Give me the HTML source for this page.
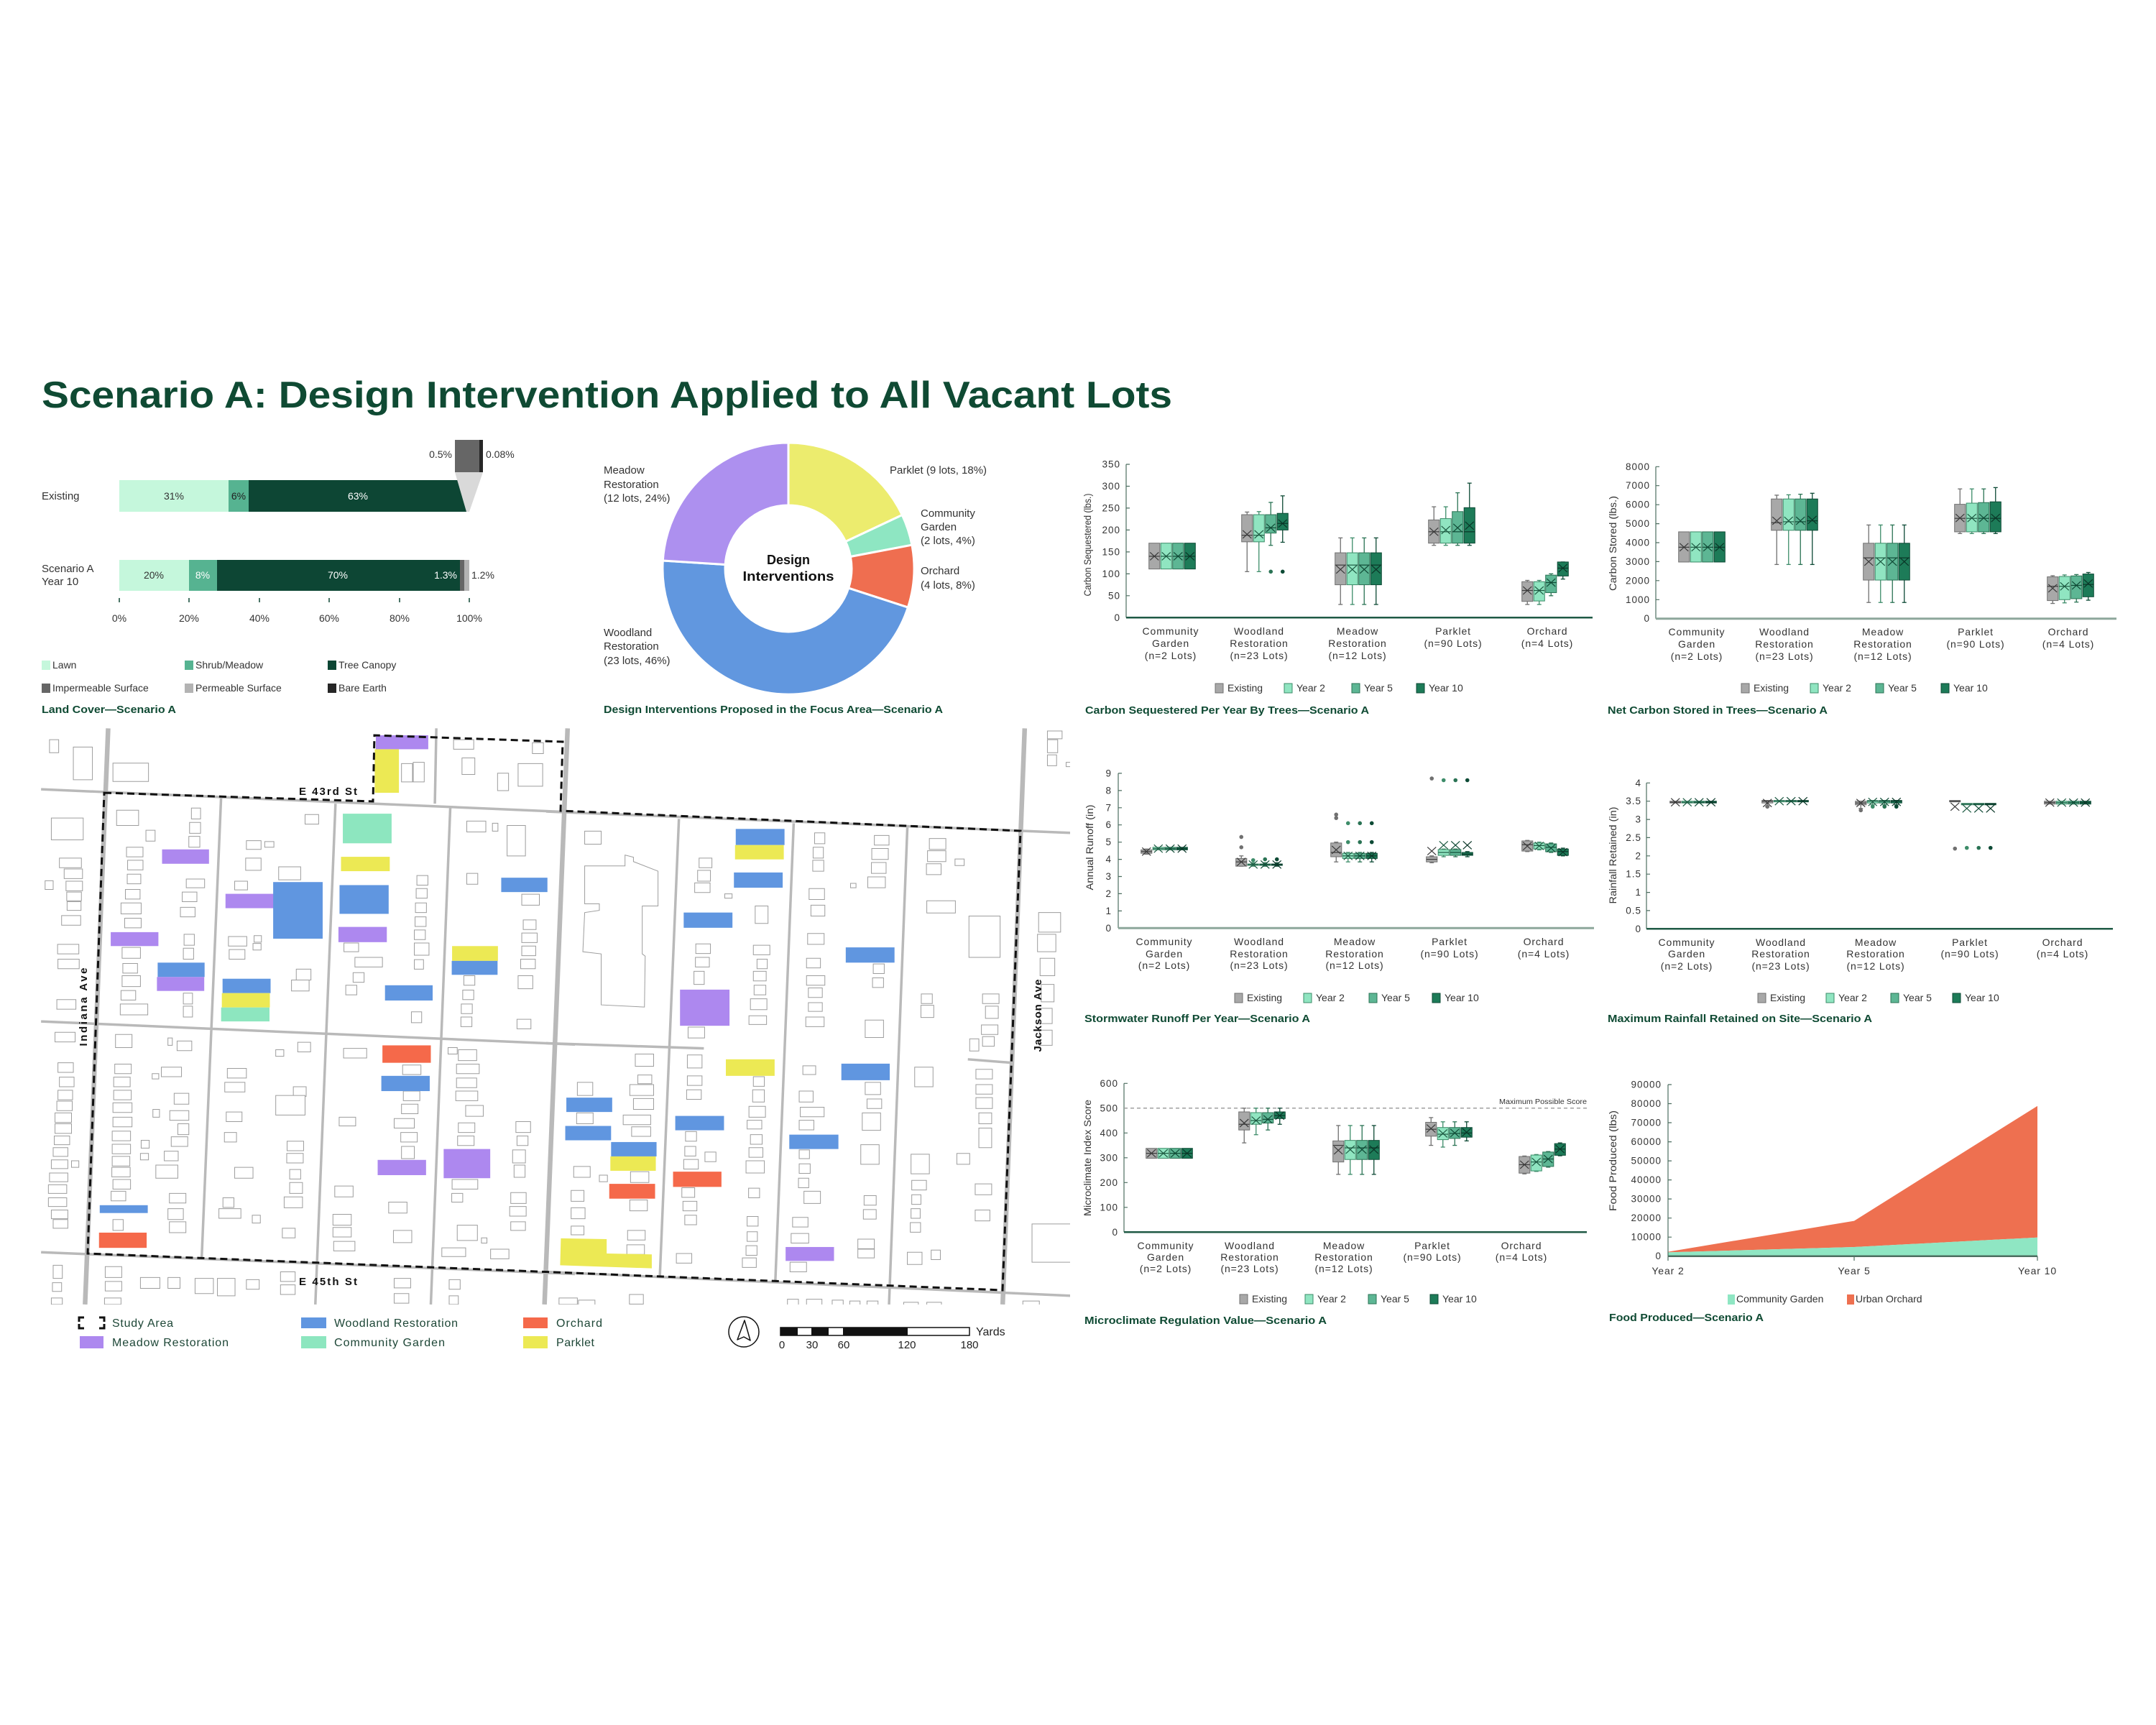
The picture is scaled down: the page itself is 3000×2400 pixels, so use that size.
<!DOCTYPE html>
<html><head><meta charset="utf-8">
<style>
html,body{margin:0;padding:0;background:#fff;}
svg{display:block;font-family:"Liberation Sans",Arial,sans-serif;}
.t{fill:#333;}
.cat{font-size:14px;fill:#333;letter-spacing:0.9px;text-anchor:middle;}
.tk{font-size:13.5px;fill:#333;letter-spacing:1px;text-anchor:end;}
.lg{font-size:14px;fill:#333;}
.ttl{font-size:14.5px;font-weight:bold;fill:#0f4a33;}
.yt{font-size:13.5px;fill:#333;text-anchor:middle;}
.ml{font-size:16px;fill:#1d4636;}
.dl{font-size:15px;fill:#333;}
</style></head><body>
<svg id="s" width="3000" height="2400" viewBox="0 0 3000 2400" xmlns="http://www.w3.org/2000/svg">
<defs><clipPath id="mapclip"><rect x="57" y="1013" width="1432" height="802"/></clipPath></defs>
<rect width="3000" height="2400" fill="#fff"/>

<!-- TITLE -->
<text x="58" y="567" font-size="52" font-weight="bold" fill="#0f4a33" textLength="1573" lengthAdjust="spacingAndGlyphs">Scenario A: Design Intervention Applied to All Vacant Lots</text>

<!-- LAND COVER -->
<g>
<text x="58" y="695" class="t" font-size="15">Existing</text>
<text x="58" y="796" class="t" font-size="15">Scenario A</text>
<text x="58" y="814" class="t" font-size="15">Year 10</text>
<rect x="166" y="668" width="152" height="44" fill="#c5f7dc"/>
<rect x="318" y="668" width="28" height="44" fill="#56b391"/>
<rect x="346" y="668" width="303" height="44" fill="#0d4634"/>
<rect x="649" y="668" width="2.5" height="44" fill="#666"/>
<rect x="651.5" y="668" width="1.5" height="44" fill="#222"/>
<rect x="166" y="779" width="97" height="43" fill="#c5f7dc"/>
<rect x="263" y="779" width="39" height="43" fill="#56b391"/>
<rect x="302" y="779" width="338" height="43" fill="#0d4634"/>
<rect x="640" y="779" width="6" height="43" fill="#666"/>
<rect x="646" y="779" width="7" height="43" fill="#b3b3b3"/>
<polygon points="633,657 672,657 653,712 649,712" fill="#d9d9d9"/>
<rect x="633" y="612" width="34" height="45" fill="#666"/>
<rect x="667" y="612" width="5" height="45" fill="#262626"/>
<text x="629" y="637" font-size="14" class="t" text-anchor="end">0.5%</text>
<text x="676" y="637" font-size="14" class="t">0.08%</text>
<g font-size="14" text-anchor="middle">
<text x="242" y="695" fill="#333">31%</text>
<text x="332" y="695" fill="#222">6%</text>
<text x="498" y="695" fill="#fff">63%</text>
<text x="214" y="805" fill="#333">20%</text>
<text x="282" y="805" fill="#fff">8%</text>
<text x="470" y="805" fill="#fff">70%</text>
</g>
<text x="636" y="805" font-size="14" fill="#fff" text-anchor="end">1.3%</text>
<text x="656" y="805" font-size="14" fill="#333">1.2%</text>
<path d="M166 832V838M263 832V838M361 832V838M458 832V838M556 832V838M653 832V838" stroke="#0d4634" stroke-width="1.5"/>
<g font-size="14" fill="#333" text-anchor="middle">
<text x="166" y="865">0%</text><text x="263" y="865">20%</text><text x="361" y="865">40%</text><text x="458" y="865">60%</text><text x="556" y="865">80%</text><text x="653" y="865">100%</text>
</g>
<rect x="58" y="919" width="12" height="13" fill="#c5f7dc"/><text x="73" y="930" class="lg">Lawn</text>
<rect x="257" y="919" width="12" height="13" fill="#56b391"/><text x="272" y="930" class="lg">Shrub/Meadow</text>
<rect x="456" y="919" width="12" height="13" fill="#0d4634"/><text x="471" y="930" class="lg">Tree Canopy</text>
<rect x="58" y="951" width="12" height="13" fill="#666"/><text x="73" y="962" class="lg">Impermeable Surface</text>
<rect x="257" y="951" width="12" height="13" fill="#b3b3b3"/><text x="272" y="962" class="lg">Permeable Surface</text>
<rect x="456" y="951" width="12" height="13" fill="#262626"/><text x="471" y="962" class="lg">Bare Earth</text>
<text x="58" y="992" class="ttl" textLength="187" lengthAdjust="spacingAndGlyphs">Land Cover—Scenario A</text>
</g>

<!-- DONUT -->
<g stroke="#fff" stroke-width="3">
<path d="M1097 616A175 175 0 0 1 1255.3 716.5L1176.6 753.5A88 88 0 0 0 1097 703Z" fill="#ecec6e"/>
<path d="M1255.3 716.5A175 175 0 0 1 1268.9 758.2L1183.4 774.5A88 88 0 0 0 1176.6 753.5Z" fill="#8ee6c2"/>
<path d="M1268.9 758.2A175 175 0 0 1 1263.4 845.1L1180.7 818.2A88 88 0 0 0 1183.4 774.5Z" fill="#ef6e50"/>
<path d="M1263.4 845.1A175 175 0 0 1 922.3 780L1009.2 785.5A88 88 0 0 0 1180.7 818.2Z" fill="#6197df"/>
<path d="M922.3 780A175 175 0 0 1 1097 616L1097 703A88 88 0 0 0 1009.2 785.5Z" fill="#ad90ef"/>
</g>
<text x="1097" y="785" font-size="18" font-weight="bold" fill="#111" text-anchor="middle">Design</text>
<text x="1097" y="808" font-size="18" font-weight="bold" fill="#111" text-anchor="middle" textLength="127" lengthAdjust="spacingAndGlyphs">Interventions</text>
<text x="840" y="659" class="dl">Meadow</text>
<text x="840" y="679" class="dl">Restoration</text>
<text x="840" y="698" class="dl">(12 lots, 24%)</text>
<text x="1238" y="659" class="dl">Parklet (9 lots, 18%)</text>
<text x="1281" y="719" class="dl">Community</text>
<text x="1281" y="738" class="dl">Garden</text>
<text x="1281" y="757" class="dl">(2 lots, 4%)</text>
<text x="1281" y="799" class="dl">Orchard</text>
<text x="1281" y="819" class="dl">(4 lots, 8%)</text>
<text x="840" y="885" class="dl">Woodland</text>
<text x="840" y="904" class="dl">Restoration</text>
<text x="840" y="924" class="dl">(23 lots, 46%)</text>
<text x="840" y="992" class="ttl" textLength="472" lengthAdjust="spacingAndGlyphs">Design Interventions Proposed in the Focus Area—Scenario A</text>

<!-- CHART 1: Carbon sequestered -->
<g stroke="#4d6e60" stroke-width="1.2" fill="none">
<path d="M1567 646V859.3"/>
<path d="M1567 859.3H1572M1567 828.8H1572M1567 798.4H1572M1567 767.9H1572M1567 737.4H1572M1567 706.9H1572M1567 676.5H1572M1567 646H1572"/>
</g>
<path d="M1567 859.3H2216" stroke="#1f5a45" stroke-width="2.5"/>
<text class="tk" x="1559" y="863.8">0</text><text class="tk" x="1559" y="833.3">50</text><text class="tk" x="1559" y="802.9">100</text><text class="tk" x="1559" y="772.4">150</text><text class="tk" x="1559" y="741.9">200</text><text class="tk" x="1559" y="711.4">250</text><text class="tk" x="1559" y="681">300</text><text class="tk" x="1559" y="650.5">350</text>
<text class="yt" transform="translate(1518 758) rotate(-90)" textLength="143" lengthAdjust="spacingAndGlyphs">Carbon Sequestered (lbs.)</text>
<text class="cat" x="1629" y="883">Community</text><text class="cat" x="1629" y="900">Garden</text><text class="cat" x="1629" y="917">(n=2 Lots)</text>
<text class="cat" x="1752" y="883">Woodland</text><text class="cat" x="1752" y="900">Restoration</text><text class="cat" x="1752" y="917">(n=23 Lots)</text>
<text class="cat" x="1889" y="883">Meadow</text><text class="cat" x="1889" y="900">Restoration</text><text class="cat" x="1889" y="917">(n=12 Lots)</text>
<text class="cat" x="2022" y="883">Parklet</text><text class="cat" x="2022" y="900">(n=90 Lots)</text>
<text class="cat" x="2153" y="883">Orchard</text><text class="cat" x="2153" y="900">(n=4 Lots)</text>
<g class="lg">
<rect x="1691" y="951" width="11" height="13" fill="#a8a8a8" stroke="#707070"/><text x="1708" y="962">Existing</text>
<rect x="1787" y="951" width="11" height="13" fill="#90e5c1" stroke="#3d8c69"/><text x="1804" y="962">Year 2</text>
<rect x="1881" y="951" width="11" height="13" fill="#5db694" stroke="#2a7354"/><text x="1898" y="962">Year 5</text>
<rect x="1971" y="951" width="11" height="13" fill="#1d7b58" stroke="#0d4a35"/><text x="1988" y="962">Year 10</text>
</g>
<text x="1510" y="993" class="ttl" textLength="395" lengthAdjust="spacingAndGlyphs">Carbon Sequestered Per Year By Trees—Scenario A</text>

<!-- CHART 2: Net carbon stored -->
<g stroke="#4d6e60" stroke-width="1.2" fill="none">
<path d="M2304 649.3V860.7"/>
<path d="M2304 834.3H2309M2304 807.8H2309M2304 781.4H2309M2304 755H2309M2304 728.6H2309M2304 702.2H2309M2304 675.7H2309M2304 649.3H2309"/>
</g>
<path d="M2304 860.7H2945" stroke="#8da79b" stroke-width="3"/>
<text class="tk" x="2296" y="865.2">0</text><text class="tk" x="2296" y="838.8">1000</text><text class="tk" x="2296" y="812.3">2000</text><text class="tk" x="2296" y="785.9">3000</text><text class="tk" x="2296" y="759.5">4000</text><text class="tk" x="2296" y="733.1">5000</text><text class="tk" x="2296" y="706.7">6000</text><text class="tk" x="2296" y="680.2">7000</text><text class="tk" x="2296" y="653.8">8000</text>
<text class="yt" transform="translate(2249 756) rotate(-90)" textLength="132" lengthAdjust="spacingAndGlyphs">Carbon Stored (lbs.)</text>
<text class="cat" x="2361" y="884">Community</text><text class="cat" x="2361" y="901">Garden</text><text class="cat" x="2361" y="918">(n=2 Lots)</text>
<text class="cat" x="2483" y="884">Woodland</text><text class="cat" x="2483" y="901">Restoration</text><text class="cat" x="2483" y="918">(n=23 Lots)</text>
<text class="cat" x="2620" y="884">Meadow</text><text class="cat" x="2620" y="901">Restoration</text><text class="cat" x="2620" y="918">(n=12 Lots)</text>
<text class="cat" x="2749" y="884">Parklet</text><text class="cat" x="2749" y="901">(n=90 Lots)</text>
<text class="cat" x="2878" y="884">Orchard</text><text class="cat" x="2878" y="901">(n=4 Lots)</text>
<g class="lg">
<rect x="2423" y="951" width="11" height="13" fill="#a8a8a8" stroke="#707070"/><text x="2440" y="962">Existing</text>
<rect x="2519" y="951" width="11" height="13" fill="#90e5c1" stroke="#3d8c69"/><text x="2536" y="962">Year 2</text>
<rect x="2610" y="951" width="11" height="13" fill="#5db694" stroke="#2a7354"/><text x="2627" y="962">Year 5</text>
<rect x="2701" y="951" width="11" height="13" fill="#1d7b58" stroke="#0d4a35"/><text x="2718" y="962">Year 10</text>
</g>
<text x="2237" y="993" class="ttl" textLength="306" lengthAdjust="spacingAndGlyphs">Net Carbon Stored in Trees—Scenario A</text>

<!-- CHART 3: Stormwater -->
<g stroke="#4d6e60" stroke-width="1.2" fill="none">
<path d="M1556 1075.9V1291.3"/>
<path d="M1556 1267.4H1561M1556 1243.4H1561M1556 1219.5H1561M1556 1195.6H1561M1556 1171.7H1561M1556 1147.7H1561M1556 1123.8H1561M1556 1099.9H1561M1556 1075.9H1561"/>
</g>
<path d="M1556 1291.3H2218" stroke="#8da79b" stroke-width="3"/>
<text class="tk" x="1547" y="1295.8">0</text><text class="tk" x="1547" y="1271.9">1</text><text class="tk" x="1547" y="1247.9">2</text><text class="tk" x="1547" y="1224">3</text><text class="tk" x="1547" y="1200.1">4</text><text class="tk" x="1547" y="1176.2">5</text><text class="tk" x="1547" y="1152.2">6</text><text class="tk" x="1547" y="1128.3">7</text><text class="tk" x="1547" y="1104.4">8</text><text class="tk" x="1547" y="1080.4">9</text>
<text class="yt" transform="translate(1521 1179) rotate(-90)" textLength="119" lengthAdjust="spacingAndGlyphs">Annual Runoff (in)</text>
<text class="cat" x="1620" y="1315">Community</text><text class="cat" x="1620" y="1332">Garden</text><text class="cat" x="1620" y="1348">(n=2 Lots)</text>
<text class="cat" x="1752" y="1315">Woodland</text><text class="cat" x="1752" y="1332">Restoration</text><text class="cat" x="1752" y="1348">(n=23 Lots)</text>
<text class="cat" x="1885" y="1315">Meadow</text><text class="cat" x="1885" y="1332">Restoration</text><text class="cat" x="1885" y="1348">(n=12 Lots)</text>
<text class="cat" x="2017" y="1315">Parklet</text><text class="cat" x="2017" y="1332">(n=90 Lots)</text>
<text class="cat" x="2148" y="1315">Orchard</text><text class="cat" x="2148" y="1332">(n=4 Lots)</text>
<g class="lg">
<rect x="1718" y="1382" width="11" height="13" fill="#a8a8a8" stroke="#707070"/><text x="1735" y="1393">Existing</text>
<rect x="1814" y="1382" width="11" height="13" fill="#90e5c1" stroke="#3d8c69"/><text x="1831" y="1393">Year 2</text>
<rect x="1905" y="1382" width="11" height="13" fill="#5db694" stroke="#2a7354"/><text x="1922" y="1393">Year 5</text>
<rect x="1993" y="1382" width="11" height="13" fill="#1d7b58" stroke="#0d4a35"/><text x="2010" y="1393">Year 10</text>
</g>
<text x="1509" y="1422" class="ttl" textLength="314" lengthAdjust="spacingAndGlyphs">Stormwater Runoff Per Year—Scenario A</text>

<!-- CHART 4: Rainfall retained -->
<g stroke="#4d6e60" stroke-width="1.2" fill="none">
<path d="M2291 1089.3V1292.3"/>
<path d="M2291 1266.9H2296M2291 1241.6H2296M2291 1216.2H2296M2291 1190.8H2296M2291 1165.4H2296M2291 1140.1H2296M2291 1114.7H2296M2291 1089.3H2296"/>
</g>
<path d="M2291 1292.3H2940" stroke="#1f5a45" stroke-width="2.5"/>
<text class="tk" x="2284" y="1296.8">0</text><text class="tk" x="2284" y="1271.4">0.5</text><text class="tk" x="2284" y="1246.1">1</text><text class="tk" x="2284" y="1220.7">1.5</text><text class="tk" x="2284" y="1195.3">2</text><text class="tk" x="2284" y="1169.9">2.5</text><text class="tk" x="2284" y="1144.6">3</text><text class="tk" x="2284" y="1119.2">3.5</text><text class="tk" x="2284" y="1093.8">4</text>
<text class="yt" transform="translate(2249 1190) rotate(-90)" textLength="135" lengthAdjust="spacingAndGlyphs">Rainfall Retained (in)</text>
<text class="cat" x="2347" y="1316">Community</text><text class="cat" x="2347" y="1332">Garden</text><text class="cat" x="2347" y="1349">(n=2 Lots)</text>
<text class="cat" x="2478" y="1316">Woodland</text><text class="cat" x="2478" y="1332">Restoration</text><text class="cat" x="2478" y="1349">(n=23 Lots)</text>
<text class="cat" x="2610" y="1316">Meadow</text><text class="cat" x="2610" y="1332">Restoration</text><text class="cat" x="2610" y="1349">(n=12 Lots)</text>
<text class="cat" x="2741" y="1316">Parklet</text><text class="cat" x="2741" y="1332">(n=90 Lots)</text>
<text class="cat" x="2870" y="1316">Orchard</text><text class="cat" x="2870" y="1332">(n=4 Lots)</text>
<g class="lg">
<rect x="2446" y="1382" width="11" height="13" fill="#a8a8a8" stroke="#707070"/><text x="2463" y="1393">Existing</text>
<rect x="2541" y="1382" width="11" height="13" fill="#90e5c1" stroke="#3d8c69"/><text x="2558" y="1393">Year 2</text>
<rect x="2631" y="1382" width="11" height="13" fill="#5db694" stroke="#2a7354"/><text x="2648" y="1393">Year 5</text>
<rect x="2717" y="1382" width="11" height="13" fill="#1d7b58" stroke="#0d4a35"/><text x="2734" y="1393">Year 10</text>
</g>
<text x="2237" y="1422" class="ttl" textLength="368" lengthAdjust="spacingAndGlyphs">Maximum Rainfall Retained on Site—Scenario A</text>

<!-- CHART 5: Microclimate -->
<g stroke="#4d6e60" stroke-width="1.2" fill="none">
<path d="M1564 1507.3V1714.3"/>
<path d="M1564 1679.8H1569M1564 1645.3H1569M1564 1610.8H1569M1564 1576.3H1569M1564 1541.8H1569M1564 1507.3H1569"/>
</g>
<path d="M1564 1541.8H2208" stroke="#a0a0a0" stroke-width="1.5" stroke-dasharray="5 4"/>
<text x="2208" y="1536" font-size="10" fill="#333" text-anchor="end" textLength="122" lengthAdjust="spacingAndGlyphs">Maximum Possible Score</text>
<path d="M1564 1714.3H2208" stroke="#1f5a45" stroke-width="2.5"/>
<text class="tk" x="1556" y="1718.8">0</text><text class="tk" x="1556" y="1684.3">100</text><text class="tk" x="1556" y="1649.8">200</text><text class="tk" x="1556" y="1615.3">300</text><text class="tk" x="1556" y="1580.8">400</text><text class="tk" x="1556" y="1546.3">500</text><text class="tk" x="1556" y="1511.8">600</text>
<text class="yt" transform="translate(1518 1611) rotate(-90)" textLength="162" lengthAdjust="spacingAndGlyphs">Microclimate Index Score</text>
<text class="cat" x="1622" y="1738">Community</text><text class="cat" x="1622" y="1754">Garden</text><text class="cat" x="1622" y="1770">(n=2 Lots)</text>
<text class="cat" x="1739" y="1738">Woodland</text><text class="cat" x="1739" y="1754">Restoration</text><text class="cat" x="1739" y="1770">(n=23 Lots)</text>
<text class="cat" x="1870" y="1738">Meadow</text><text class="cat" x="1870" y="1754">Restoration</text><text class="cat" x="1870" y="1770">(n=12 Lots)</text>
<text class="cat" x="1993" y="1738">Parklet</text><text class="cat" x="1993" y="1754">(n=90 Lots)</text>
<text class="cat" x="2117" y="1738">Orchard</text><text class="cat" x="2117" y="1754">(n=4 Lots)</text>
<g class="lg">
<rect x="1725" y="1801" width="11" height="13" fill="#a8a8a8" stroke="#707070"/><text x="1742" y="1812">Existing</text>
<rect x="1816" y="1801" width="11" height="13" fill="#90e5c1" stroke="#3d8c69"/><text x="1833" y="1812">Year 2</text>
<rect x="1904" y="1801" width="11" height="13" fill="#5db694" stroke="#2a7354"/><text x="1921" y="1812">Year 5</text>
<rect x="1990" y="1801" width="11" height="13" fill="#1d7b58" stroke="#0d4a35"/><text x="2007" y="1812">Year 10</text>
</g>
<text x="1509" y="1842" class="ttl" textLength="337" lengthAdjust="spacingAndGlyphs">Microclimate Regulation Value—Scenario A</text>

<!-- CHART 6: Food produced -->
<polygon points="2321,1741.6 2580,1698.6 2835,1538.7 2835,1721.7 2580,1735 2321,1742.4" fill="#ee7050"/>
<polygon points="2321,1742.4 2580,1735 2835,1721.7 2835,1747.7 2321,1747.7" fill="#8fe6c3"/>
<g stroke="#4d6e60" stroke-width="1.2" fill="none">
<path d="M2321 1509V1747.7"/>
<path d="M2321 1721.2H2326M2321 1694.7H2326M2321 1668.1H2326M2321 1641.6H2326M2321 1615.1H2326M2321 1588.6H2326M2321 1562H2326M2321 1535.5H2326M2321 1509H2326"/>
<path d="M2321 1747.7V1754M2580 1747.7V1754M2835 1747.7V1754"/>
</g>
<path d="M2321 1747.7H2835" stroke="#4d6e60" stroke-width="2.5"/>
<text class="tk" x="2312" y="1752.2">0</text><text class="tk" x="2312" y="1725.7">10000</text><text class="tk" x="2312" y="1699.2">20000</text><text class="tk" x="2312" y="1672.6">30000</text><text class="tk" x="2312" y="1646.1">40000</text><text class="tk" x="2312" y="1619.6">50000</text><text class="tk" x="2312" y="1593.1">60000</text><text class="tk" x="2312" y="1566.5">70000</text><text class="tk" x="2312" y="1540">80000</text><text class="tk" x="2312" y="1513.5">90000</text>
<text class="yt" transform="translate(2249 1615) rotate(-90)" textLength="140" lengthAdjust="spacingAndGlyphs">Food Produced (lbs)</text>
<text class="cat" x="2321" y="1773">Year 2</text><text class="cat" x="2580" y="1773">Year 5</text><text class="cat" x="2835" y="1773">Year 10</text>
<g class="lg">
<rect x="2404" y="1801" width="10" height="14" fill="#8fe6c3"/><text x="2416" y="1812">Community Garden</text>
<rect x="2570" y="1801" width="10" height="14" fill="#ee7050"/><text x="2582" y="1812">Urban Orchard</text>
</g>
<text x="2239" y="1838" class="ttl" textLength="215" lengthAdjust="spacingAndGlyphs">Food Produced—Scenario A</text>

<g id="dyn"></g>

<!-- MAP -->
<g clip-path="url(#mapclip)">
 <g transform="translate(0 1000) scale(0.5102 0.6059)" stroke="#b9b9b9" fill="none">
  <path vector-effect="non-scaling-stroke" stroke-width="6.5" d="M295 22L232 1345M1548 22L1485 1345"/>
  <path vector-effect="non-scaling-stroke" stroke-width="3.5" d="M603 180L550 1240M915 195L860 1345M1190 22L1186 195M1228 205L1175 1345M112 162L1568 215M112 695L1568 748M112 1225L1568 1275"/>
 </g>
 <g transform="translate(760 1000) scale(0.5102 0.6059)" stroke="#b9b9b9" fill="none">
  <path vector-effect="non-scaling-stroke" stroke-width="6.5" d="M1305 22L1245 1345"/>
  <path vector-effect="non-scaling-stroke" stroke-width="3.5" d="M0 213L1430 262M0 745L430 757M1150 782L1270 790M0 1270L1430 1325M362 230L310 1280M675 240L625 1290M985 250L935 1345"/>
 </g>
 <g id="b3" transform="translate(0 1000) scale(0.5102 0.6059)" fill="#fff" stroke="#9d9d9d"></g>
 <g id="b4" transform="translate(760 1000) scale(0.5102 0.6059)" fill="#fff" stroke="#9d9d9d">
  <polygon vector-effect="non-scaling-stroke" stroke-width="1" points="105,338 215,338 215,313 238,318 238,328 305,350 305,430 262,430 262,540 270,545 268,662 150,657 150,540 100,535 105,445 145,440 145,425 105,425"/>
 </g>
 <g transform="translate(0 1000) scale(0.5102 0.6059)">
  <rect x="1025" y="38" width="143" height="32" fill="#ad88ef"/>
  <rect x="1022" y="70" width="66" height="100" fill="#ece954"/>
  <rect x="442" y="300" width="128" height="33" fill="#ad88ef"/>
  <rect x="302" y="490" width="130" height="32" fill="#ad88ef"/>
  <rect x="430" y="560" width="128" height="33" fill="#6096e0"/>
  <rect x="428" y="593" width="129" height="32" fill="#ad88ef"/>
  <rect x="615" y="402" width="133" height="33" fill="#ad88ef"/>
  <rect x="745" y="375" width="135" height="130" fill="#6096e0"/>
  <rect x="607" y="597" width="131" height="33" fill="#6096e0"/>
  <rect x="605" y="630" width="131" height="33" fill="#ece954"/>
  <rect x="603" y="663" width="132" height="32" fill="#8de6bf"/>
  <rect x="935" y="218" width="133" height="68" fill="#8de6bf"/>
  <rect x="930" y="317" width="133" height="33" fill="#ece954"/>
  <rect x="926" y="382" width="134" height="66" fill="#6096e0"/>
  <rect x="923" y="478" width="132" height="35" fill="#ad88ef"/>
  <rect x="1050" y="612" width="130" height="35" fill="#6096e0"/>
  <rect x="1367" y="365" width="126" height="33" fill="#6096e0"/>
  <rect x="1233" y="522" width="125" height="34" fill="#ece954"/>
  <rect x="1232" y="556" width="125" height="32" fill="#6096e0"/>
  <rect x="1043" y="750" width="132" height="40" fill="#f5694a"/>
  <rect x="1040" y="820" width="132" height="35" fill="#6096e0"/>
  <rect x="1030" y="1013" width="132" height="35" fill="#ad88ef"/>
  <rect x="1210" y="988" width="127" height="67" fill="#ad88ef"/>
  <rect x="272" y="1117" width="131" height="18" fill="#6096e0"/>
  <rect x="270" y="1180" width="130" height="35" fill="#f5694a"/>
 </g>
 <g transform="translate(760 1000) scale(0.5102 0.6059)">
  <rect x="517" y="253" width="133" height="37" fill="#6096e0"/>
  <rect x="515" y="290" width="133" height="33" fill="#ece954"/>
  <rect x="512" y="353" width="133" height="35" fill="#6096e0"/>
  <rect x="375" y="445" width="133" height="35" fill="#6096e0"/>
  <rect x="365" y="622" width="135" height="83" fill="#ad88ef"/>
  <rect x="817" y="525" width="133" height="35" fill="#6096e0"/>
  <rect x="490" y="782" width="133" height="38" fill="#ece954"/>
  <rect x="805" y="792" width="132" height="38" fill="#6096e0"/>
  <rect x="55" y="870" width="125" height="33" fill="#6096e0"/>
  <rect x="52" y="935" width="125" height="33" fill="#6096e0"/>
  <rect x="177" y="972" width="124" height="33" fill="#6096e0"/>
  <rect x="175" y="1005" width="124" height="33" fill="#ece954"/>
  <rect x="172" y="1068" width="125" height="34" fill="#f5694a"/>
  <rect x="352" y="912" width="133" height="33" fill="#6096e0"/>
  <rect x="346" y="1040" width="132" height="35" fill="#f5694a"/>
  <rect x="663" y="955" width="134" height="33" fill="#6096e0"/>
  <rect x="653" y="1213" width="132" height="32" fill="#ad88ef"/>
  <polygon points="40,1193 165,1195 165,1228 288,1230 288,1262 38,1255" fill="#ece954"/>
 </g>
 <polygon points="145,1103 519,1115 521,1023 783,1032 780,1128 1420,1156 1395,1795 122,1744" fill="none" stroke="#111" stroke-width="3" stroke-dasharray="10 6"/>
 <g font-size="15" font-weight="bold" fill="#111" letter-spacing="2">
  <text x="416" y="1106" textLength="83">E 43rd St</text>
  <text x="416" y="1788" textLength="83">E 45th St</text>
  <text transform="translate(121 1400) rotate(-90)" text-anchor="middle" textLength="111">Indiana Ave</text>
  <text transform="translate(1449 1412) rotate(-90)" text-anchor="middle" textLength="103">Jackson Ave</text>
 </g>
</g>

<!-- MAP LEGEND -->
<path d="M110 1839V1833H117M138 1833H145V1839M145 1842V1848H138M117 1848H110V1842" fill="none" stroke="#111" stroke-width="3"/>
<text x="156" y="1846" class="ml" textLength="85">Study Area</text>
<rect x="111" y="1859" width="33" height="17" fill="#ad88ef"/>
<text x="156" y="1873" class="ml" textLength="162">Meadow Restoration</text>
<rect x="419" y="1833" width="35" height="15" fill="#6096e0"/>
<text x="465" y="1846" class="ml" textLength="172">Woodland Restoration</text>
<rect x="419" y="1859" width="35" height="17" fill="#8de6bf"/>
<text x="465" y="1873" class="ml" textLength="154">Community Garden</text>
<rect x="728" y="1833" width="34" height="15" fill="#f5694a"/>
<text x="774" y="1846" class="ml" textLength="64">Orchard</text>
<rect x="728" y="1859" width="34" height="17" fill="#ece954"/>
<text x="774" y="1873" class="ml" textLength="53">Parklet</text>
<circle cx="1035" cy="1853" r="21" fill="none" stroke="#111" stroke-width="1.5"/>
<path d="M1036 1837L1026 1864L1035 1860L1044 1865Z" fill="none" stroke="#111" stroke-width="1.5" stroke-linejoin="round"/>
<rect x="1086" y="1847" width="263" height="11" fill="#fff" stroke="#111" stroke-width="1.5"/>
<rect x="1086" y="1847" width="24" height="11" fill="#111"/>
<rect x="1129" y="1847" width="24" height="11" fill="#111"/>
<rect x="1173" y="1847" width="90" height="11" fill="#111"/>
<g font-size="15" fill="#222" text-anchor="middle">
<text x="1088" y="1876">0</text><text x="1130" y="1876">30</text><text x="1174" y="1876">60</text><text x="1262" y="1876">120</text><text x="1349" y="1876">180</text>
</g>
<text x="1358" y="1858" font-size="16" fill="#222">Yards</text>
</svg>

<script>
(function(){
var NS="http://www.w3.org/2000/svg";
function E(t,a,p){var e=document.createElementNS(NS,t);for(var k in a)e.setAttribute(k,a[k]);p.appendChild(e);return e;}
var root=document.getElementById('dyn');
var C=[{f:'#a8a8a8',s:'#707070',x:'#3a3a3a'},{f:'#90e5c1',s:'#3d8c69',x:'#1d5a42'},{f:'#5db694',s:'#2a7354',x:'#0f4a35'},{f:'#1d7b58',s:'#0d4a35',x:'#0a3627'}];
function chart(centers,data,y0,sc){
 var g=E('g',{},root);var bw=16.5;
 function Y(v){return y0-v*sc;}
 centers.forEach(function(cx,ci){var d=data[ci];
  for(var i=0;i<4;i++){var b=d[i],c=C[i];var x=cx-2*bw+i*bw,m=x+bw/2;
   var q1=b[0],q3=b[1],med=b[2],mean=b[3],lo=b[4],hi=b[5],out=b[6]||[];
   if(hi!=null){E('line',{x1:m,x2:m,y1:Y(q3),y2:Y(hi),stroke:c.s,'stroke-width':1.3},g);E('line',{x1:m-3,x2:m+3,y1:Y(hi),y2:Y(hi),stroke:c.s,'stroke-width':1.3},g);}
   if(lo!=null){E('line',{x1:m,x2:m,y1:Y(q1),y2:Y(lo),stroke:c.s,'stroke-width':1.3},g);E('line',{x1:m-3,x2:m+3,y1:Y(lo),y2:Y(lo),stroke:c.s,'stroke-width':1.3},g);}
   var top=Y(q3),h=Math.max(2,Y(q1)-Y(q3));
   E('rect',{x:x+0.7,y:top,width:bw-1.4,height:h,fill:c.f,stroke:c.s,'stroke-width':1},g);
   E('line',{x1:x+0.7,x2:x+bw-0.7,y1:Y(med),y2:Y(med),stroke:c.x,'stroke-width':1.2},g);
   var ym=Y(mean),hx=6,hy=5.5;
   E('path',{d:'M'+(m-hx)+' '+(ym-hy)+'L'+(m+hx)+' '+(ym+hy)+'M'+(m-hx)+' '+(ym+hy)+'L'+(m+hx)+' '+(ym-hy),stroke:c.x,'stroke-width':1.2,fill:'none'},g);
   out.forEach(function(o){E('circle',{cx:m,cy:Y(o),r:2.8,fill:c.s},g);});
  }});
}
function R(a){return [a,a,a,a];}
chart([1631,1760,1890,2020,2150],[
 R([111,170,140,140,null,null]),
 [[173,235,188,190,105,241],[173,235,188,190,105,242],[193,235,205,205,165,263,[105]],[200,238,215,215,172,278,[105]]],
 R([75,148,120,110,30,182]),
 [[170,223,196,196,165,253],[170,226,196,200,165,253],[170,242,196,205,165,285],[170,251,196,210,165,307]],
 [[37,82,62,62,30,85],[38,82,62,62,30,85],[57,97,80,80,50,100],[95,127,113,113,88,127]]
],859.3,0.6095);
chart([2368,2497,2625,2752,2881],[
 R([2980,4570,3760,3760,null,null]),
 [[4650,6300,5050,5150,2850,6500],[4650,6300,5100,5150,2850,6520],[4650,6300,5100,5150,2850,6550],[4650,6300,5150,5200,2850,6600]],
 R([2030,3970,3200,3000,850,4930]),
 [[4570,6020,5280,5300,4480,6830],[4570,6080,5280,5300,4480,6830],[4570,6110,5280,5300,4480,6830],[4570,6150,5280,5300,4480,6900]],
 [[950,2200,1700,1600,800,2260],[1000,2220,1700,1700,830,2300],[1050,2250,1750,1750,870,2320],[1150,2350,1800,1850,970,2430]]
],860.7,211.4/8000);
chart([1620,1752,1884,2017,2150],[
 [[4.35,4.55,4.45,4.45,4.3,4.6],[4.55,4.7,4.62,4.62],[4.55,4.7,4.62,4.62],[4.55,4.7,4.62,4.62]],
 [[3.6,4.05,3.85,3.85,3.6,4.2,[4.7,5.3]],[3.65,3.73,3.7,3.7,3.6,3.8,[3.95]],[3.65,3.73,3.7,3.7,3.6,3.8,[4.0]],[3.65,3.73,3.7,3.7,3.6,3.8,[4.0]]],
 [[4.15,4.95,4.4,4.55,3.85,5.0,[6.4,6.6]],[4.05,4.35,4.2,4.2,3.85,4.4,[5.0,6.1]],[4.05,4.35,4.2,4.2,3.85,4.4,[5.0,6.1]],[4.05,4.35,4.2,4.2,3.85,4.4,[5.0,6.1]]],
 [[3.85,4.15,4.0,4.48,3.8,4.2,[8.7]],[4.23,4.57,4.4,4.82,4.15,4.6,[8.6]],[4.23,4.57,4.4,4.82,4.15,4.6,[8.6]],[4.23,4.4,4.3,4.82,4.15,4.45,[8.6]]],
 [[4.48,5.07,4.85,4.77,4.45,5.1],[4.6,4.95,4.8,4.78,4.55,5.0],[4.44,4.9,4.7,4.65,4.4,4.95],[4.23,4.6,4.45,4.42,4.2,4.65]]
],1291.3,23.93);
chart([2356,2484,2614,2745,2877],[
 R([3.45,3.5,3.47,3.47,null,null]),
 [[3.45,3.52,3.5,3.45,3.35,3.52,[3.35]],[3.5,3.52,3.51,3.5],[3.5,3.52,3.51,3.5],[3.5,3.52,3.51,3.5]],
 [[3.4,3.5,3.45,3.45,3.3,3.5,[3.25]],[3.45,3.52,3.5,3.48,3.4,3.52,[3.35]],[3.45,3.52,3.5,3.48,3.4,3.52,[3.35]],[3.45,3.52,3.5,3.48,3.4,3.52,[3.35]]],
 [[3.48,3.52,3.5,3.35,null,null,[2.2]],[3.4,3.44,3.42,3.3,null,null,[2.22]],[3.4,3.44,3.42,3.3,null,null,[2.22]],[3.4,3.44,3.42,3.3,null,null,[2.22]]],
 R([3.42,3.5,3.46,3.46,null,null])
],1292.3,50.75);
chart([1627,1756,1887,2016,2146],[
 R([298,338,318,318,null,null]),
 [[412,485,435,440,360,500],[435,482,450,450,393,500],[440,482,455,455,412,500],[458,485,470,470,435,500]],
 [[283,368,350,330,233,430],[293,370,340,333,233,430],[293,370,340,333,233,430],[293,370,340,333,233,430]],
 [[387,443,415,418,350,462],[373,422,395,398,343,445],[378,422,398,400,350,445],[383,422,400,403,368,445]],
 [[238,305,272,272,235,307],[247,311,283,283,245,313],[265,323,295,295,262,325],[310,357,335,335,308,360]]
],1714.3,0.345);

var B3=[[135,48,25,30],[200,65,52,75],[308,102,97,42],[1095,103,30,42],[1127,100,30,45],[1237,48,55,22],[1260,90,35,38],[1357,125,30,40],[1413,103,67,52],[1452,55,30,25],
[140,228,87,50],[162,320,60,22],[175,345,50,22],[180,373,45,22],[182,398,40,20],[183,420,38,20],[168,452,52,22],[123,372,22,20],[157,518,58,22],[158,552,58,22],[155,645,52,22],[150,720,55,22],[158,790,42,22],[162,823,40,22],[158,853,40,22],[155,878,42,22],[150,905,45,22],[150,930,45,22],[148,958,42,20],[145,985,40,20],[140,1013,45,20],[135,1043,50,20],[132,1070,50,20],[132,1100,50,20],[140,1128,45,20],[145,1150,40,20],[195,1015,20,15],
[318,210,60,35],[398,256,25,25],[345,295,45,22],[348,325,42,22],[347,357,37,22],[342,392,40,22],[330,423,55,25],[340,458,45,22],[333,525,50,25],[335,562,40,22],[333,590,50,25],[330,624,40,22],[328,655,75,25],[522,205,25,25],[517,238,30,25],[515,270,30,25],[508,368,50,20],[497,398,40,22],[492,433,40,22],[502,495,28,25],[500,527,28,25],[500,630,25,25],[500,660,25,25],
[832,220,37,22],[672,280,40,20],[722,282,25,13],[670,320,42,28],[640,373,35,20],[760,340,60,30],[623,500,50,22],[625,530,43,22],[693,498,20,15],[690,516,22,15],[808,575,40,25],[795,600,48,25],
[1137,360,30,22],[1135,390,30,22],[1133,423,30,22],[1132,455,30,22],[1130,485,30,22],[1130,515,40,28],[1130,553,25,22],[938,515,40,20],[968,548,75,22],[963,583,30,22],[943,612,30,22],[1122,673,28,25],
[1273,235,52,25],[1343,240,15,18],[1383,245,50,70],[1273,355,30,25],[1423,403,48,25],[1427,462,35,22],[1423,492,42,22],[1423,522,38,22],[1420,552,40,22],[1413,590,40,30],[1265,590,30,22],[1262,623,30,22],[1258,655,30,22],[1257,685,30,22],[1410,690,38,22],
[315,725,45,30],[458,733,12,17],[483,740,40,22],[313,793,45,22],[310,823,45,22],[310,853,48,22],[308,882,52,22],[308,915,52,22],[306,947,50,22],[306,977,50,22],[306,1005,48,22],[305,1030,50,22],[308,1058,48,22],[303,1085,40,22],[415,815,18,12],[440,800,55,22],[475,860,40,25],[417,897,18,18],[463,900,52,22],[485,930,30,25],[467,960,45,22],[385,968,22,18],[383,998,22,15],[448,993,38,22],[425,1025,60,30],[462,1090,45,22],[458,1125,42,25],[462,1155,45,25],[308,1150,28,25],
[752,760,22,15],[812,743,35,22],[620,803,52,22],[613,835,55,22],[800,845,35,22],[752,865,80,45],[617,903,43,22],[612,950,33,22],[783,970,45,22],[782,998,45,22],[790,1035,30,22],[790,1065,35,25],[775,1098,50,25],[640,1030,50,25],[608,1100,30,22],[597,1125,60,22],[688,1140,22,18],[770,1170,35,22],
[937,757,63,22],[1098,795,50,22],[1100,855,45,22],[1095,885,45,22],[1075,918,55,22],[1093,950,45,22],[1095,982,35,28],[925,915,45,20],[913,1073,50,25],[1060,1110,50,25],[908,1138,50,25],[908,1168,50,22],[910,1200,58,22],[1073,1175,50,28],
[1222,755,25,15],[1250,760,50,25],[1245,793,62,22],[1245,825,55,22],[1243,855,60,22],[1270,888,48,25],[1250,928,45,22],[1248,958,45,22],[1233,1058,70,22],[1232,1090,30,20],[1407,925,40,25],[1410,958,30,22],[1398,990,35,30],[1402,1025,30,28],[1393,1088,42,25],[1390,1120,45,22],[1393,1155,40,20],[1247,1163,55,35],[1313,1192,15,12],[1338,1218,50,22],[1205,1215,65,20],
[145,1255,25,30],[143,1295,25,20],[287,1258,45,25],[287,1292,45,22],[383,1283,53,25],[458,1283,33,25],[532,1285,50,35],[593,1285,48,40],[672,1288,35,22],[765,1270,40,22],[765,1300,40,22],[1075,1285,45,22],[1075,1320,40,22],[1225,1288,30,22],[1225,1325,25,20],[140,1330,30,15],[285,1330,45,15]];
var B4=[[1367,28,40,18],[1367,48,28,30],[1367,83,25,25],[1418,100,12,10],[105,258,45,30],
[417,320,35,22],[413,348,35,25],[405,377,42,22],[487,402,20,10],[408,517,40,22],[407,548,38,22],[403,580,28,30],[570,430,35,40],[565,520,45,22],[575,552,28,22],[565,580,35,22],[567,612,32,22],[557,643,45,25],[553,682,48,20],[387,708,45,25],
[732,262,28,25],[728,295,28,25],[727,325,30,25],[717,390,42,25],[722,428,38,25],[713,493,45,25],[710,550,38,22],[710,590,50,22],[715,618,38,22],[715,652,38,20],[708,685,50,22],[895,268,40,22],[888,298,45,25],[887,330,40,25],[877,363,48,25],[830,378,15,10],[892,563,30,22],[890,595,30,22],[870,692,50,40],
[1045,275,45,25],[1040,303,50,25],[1037,333,40,25],[1115,322,25,15],[1038,418,78,28],[1153,453,85,95],[1023,632,30,22],[1022,658,35,28],[1190,632,45,22],[1198,660,35,28],[1187,703,45,22],[1190,730,32,22],[1155,735,25,28],
[1343,445,60,45],[1340,495,50,40],[1347,550,40,40],[1350,610,35,40],[1345,665,35,35],[1345,715,35,35],[1325,1160,105,88],
[85,835,42,30],[83,905,45,25],[243,770,50,28],[250,818,38,20],[228,840,65,25],[238,872,55,25],[210,910,75,22],[233,937,52,22],[75,1028,45,25],[145,1048,22,15],[230,1040,50,25],[228,1105,48,25],[68,1083,35,25],[68,1123,38,25],[68,1165,35,20],[222,1175,48,22],[220,1208,48,22],
[385,772,40,30],[385,820,40,22],[383,852,40,22],[380,948,30,22],[378,982,30,22],[375,1012,40,22],[433,995,30,22],[370,1077,35,22],[373,1108,38,22],[378,1140,32,22],[355,1228,42,22],[565,822,30,22],[563,852,32,28],[553,890,45,25],[548,922,40,20],[557,955,32,22],[553,985,38,22],[545,1015,50,28],[552,1078,30,22],[548,1143,30,22],[548,1178,28,22],[545,1210,30,22],[535,1238,38,22],
[700,797,35,20],[690,855,38,25],[693,892,65,22],[690,922,40,22],[690,990,28,20],[690,1022,30,22],[688,1055,28,22],[703,1085,45,28],[672,1145,42,22],[668,1182,48,22],[665,1248,45,22],[870,835,42,28],[875,873,40,22],[862,905,50,40],[858,978,50,45],[867,1095,33,22],[865,1127,35,22],[850,1195,45,22],[850,1218,45,20],
[1005,800,50,45],[995,1000,50,45],[997,1060,40,22],[997,1093,25,22],[995,1125,25,22],[993,1157,28,22],[985,1225,40,28],[1050,1220,25,22],[1172,805,45,22],[1172,840,45,22],[1172,870,45,25],[1180,905,35,25],[1180,940,35,45],[1120,998,35,25],[1170,1068,45,25],[1170,1128,40,25],
[35,1330,50,15],[88,1335,45,12],[227,1322,38,22],[658,1333,30,15],[710,1333,42,15],[780,1335,30,12],[828,1337,28,10],[875,1337,30,10],[975,1340,40,10],[1038,1340,40,10],[1300,1337,45,10]];
function bl(arr,id){var g=document.getElementById(id);arr.forEach(function(r){E('rect',{x:r[0],y:r[1],width:r[2],height:r[3],'vector-effect':'non-scaling-stroke','stroke-width':1},g);});}
bl(B3,'b3');bl(B4,'b4');
})();
</script>
</body></html>
